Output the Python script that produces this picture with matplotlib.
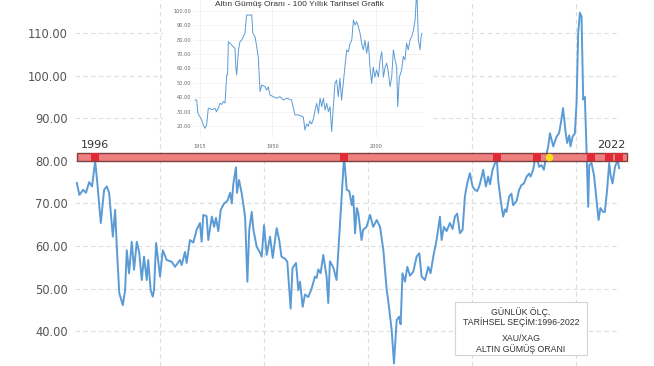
import matplotlib.pyplot as plt
import matplotlib.ticker as mticker
from matplotlib.patches import Rectangle

# --- main series: XAU/XAG ratio 1996-2022 ---
years = [1996.00, 1996.12, 1996.30, 1996.44, 1996.59, 1996.73, 1996.88, 1996.97,
         1997.15, 1997.31, 1997.44, 1997.55, 1997.73, 1997.84, 1997.92, 1998.04,
         1998.21, 1998.32, 1998.40, 1998.51, 1998.64, 1998.75, 1998.88, 1999.00,
         1999.12, 1999.23, 1999.36, 1999.43, 1999.55, 1999.65, 1999.71, 1999.81,
         2000.00, 2000.13, 2000.32, 2000.56, 2000.72, 2000.96, 2001.04, 2001.20,
         2001.28, 2001.44, 2001.60, 2001.76, 2001.92, 2002.00, 2002.08, 2002.24,
         2002.32, 2002.49, 2002.60, 2002.69, 2002.80, 2002.92, 2003.08, 2003.24,
         2003.37, 2003.45, 2003.52, 2003.65, 2003.70, 2003.80, 2003.93, 2004.09,
         2004.20, 2004.29, 2004.41, 2004.49, 2004.65, 2004.81, 2004.89, 2005.00,
         2005.13, 2005.29, 2005.42, 2005.53, 2005.61, 2005.73, 2005.84, 2006.01,
         2006.12, 2006.28, 2006.37, 2006.54, 2006.65, 2006.73, 2006.86, 2006.97,
         2007.13, 2007.29, 2007.45, 2007.53, 2007.61, 2007.72, 2007.85, 2008.01,
         2008.09, 2008.17, 2008.33, 2008.49, 2008.73, 2008.85, 2008.98, 2009.10,
         2009.22, 2009.29, 2009.38, 2009.46, 2009.53, 2009.69, 2009.77, 2009.93,
         2010.10, 2010.25, 2010.42, 2010.58, 2010.74, 2010.90, 2010.97, 2011.14,
         2011.25, 2011.38, 2011.50, 2011.57, 2011.66, 2011.78, 2011.89, 2012.02,
         2012.18, 2012.34, 2012.47, 2012.58, 2012.74, 2012.90, 2013.01, 2013.14,
         2013.30, 2013.46, 2013.54, 2013.65, 2013.78, 2013.94, 2014.07, 2014.18,
         2014.29, 2014.42, 2014.55, 2014.66, 2014.77, 2014.90, 2015.03, 2015.14,
         2015.25, 2015.35, 2015.47, 2015.54, 2015.67, 2015.78, 2015.87, 2015.99,
         2016.11, 2016.19, 2016.26, 2016.38, 2016.50, 2016.59, 2016.66, 2016.79,
         2016.90, 2016.98, 2017.14, 2017.27, 2017.38, 2017.50, 2017.63, 2017.75,
         2017.82, 2017.94, 2018.03, 2018.11, 2018.23, 2018.35, 2018.46, 2018.56,
         2018.67, 2018.75, 2018.83, 2018.91, 2019.07, 2019.19, 2019.30, 2019.38,
         2019.51, 2019.58, 2019.68, 2019.74, 2019.84, 2019.95, 2020.03, 2020.11,
         2020.19, 2020.27, 2020.35, 2020.43, 2020.51, 2020.59, 2020.64, 2020.75,
         2020.87, 2020.99, 2021.09, 2021.18, 2021.31, 2021.39, 2021.50, 2021.60,
         2021.67, 2021.76, 2021.88, 2022.00, 2022.08]
ratio = [74.8, 72.0, 73.2, 72.5, 75.0, 74.0, 80.0, 75.5,
         65.4, 73.2, 74.0, 72.5, 62.2, 68.5, 59.8, 48.9,
         46.1, 49.6, 59.0, 53.6, 61.0, 54.4, 61.0, 58.4,
         52.0, 57.5, 52.0, 56.7, 49.6, 48.1, 49.6, 60.7,
         52.8, 59.0, 56.7, 56.3, 55.1, 56.7, 55.5, 58.6,
         56.0, 61.4, 60.8, 63.8, 65.4, 61.0, 67.3, 67.0,
         61.4, 66.9, 64.5, 66.6, 63.5, 68.5, 70.0, 70.6,
         72.5, 70.0, 74.4, 78.5, 72.5, 75.5, 72.3, 66.9,
         51.6, 63.8, 68.0, 63.8, 59.8, 58.4, 57.5, 64.9,
         57.9, 62.2, 57.2, 61.4, 64.2, 61.4, 57.5, 57.0,
         56.3, 45.3, 54.8, 56.0, 49.6, 51.6, 45.7, 48.6,
         48.0, 50.0, 52.8, 52.5, 54.5, 53.6, 57.9, 52.8,
         46.6, 56.4, 55.0, 52.0, 71.6, 81.0, 73.2, 72.9,
         69.6, 71.8, 63.0, 68.9, 67.8, 61.4, 63.8, 64.5,
         67.3, 64.5, 66.1, 64.5, 59.0, 49.6, 47.3, 40.2,
         32.4, 42.6, 43.4, 41.6, 53.6, 51.6, 55.1, 53.0,
         54.0, 57.5, 58.3, 52.8, 52.0, 55.1, 53.6, 57.5,
         61.4, 66.9, 61.4, 64.5, 63.5, 65.4, 64.0, 66.9,
         67.6, 63.0, 63.8, 71.6, 74.7, 77.1, 74.0, 73.2,
         72.9, 74.0, 76.3, 77.9, 74.0, 76.3, 74.5, 77.9,
         79.5, 81.0, 75.5, 70.8, 66.9, 68.6, 68.0, 71.6,
         72.3, 69.6, 70.5, 73.2, 74.3, 74.7, 76.3, 77.0,
         76.3, 77.9, 80.2, 81.0, 78.6, 79.0, 77.9, 81.0,
         83.4, 86.5, 85.0, 83.4, 85.7, 86.5, 89.6, 92.4,
         86.5, 84.2, 86.0, 83.4, 85.7, 86.5, 93.6, 110.0,
         114.8, 113.9, 94.4, 95.0, 82.6, 69.2, 79.0, 79.5,
         76.6, 70.8, 66.1, 68.9, 68.0, 68.0, 73.2, 79.5,
         76.6, 74.7, 78.6, 80.2, 78.3]

# points where the ratio touched the 80 band
touch_years = [1996.88, 2008.85, 2016.20, 2018.12, 2020.72, 2021.59, 2022.07]
today_year = 2018.70
band_low, band_high = 80.0, 81.9
band_mid = 81.0
main_yticks = [40, 50, 60, 70, 80, 90, 100, 110]

# --- inset: 100 year history ---
hist_years = [1912.6, 1913.4, 1914.0, 1915.8, 1916.6, 1917.4, 1918.2, 1919.0,
              1919.8, 1920.6, 1922.2, 1923.0, 1923.8, 1924.7, 1925.5, 1926.3,
              1927.1, 1927.9, 1928.3, 1928.7, 1929.5, 1930.3, 1931.1, 1931.9,
              1932.3, 1932.7, 1933.6, 1934.3, 1935.1, 1935.9, 1936.7, 1937.5,
              1939.1, 1940.0, 1940.5, 1941.6, 1942.4, 1943.2, 1944.0, 1944.8,
              1946.4, 1947.2, 1948.0, 1948.8, 1950.4, 1952.0, 1953.6, 1955.2,
              1956.8, 1959.2, 1960.9, 1962.5, 1964.9, 1965.7, 1966.5, 1967.3,
              1968.1, 1968.9, 1969.7, 1970.6, 1971.4, 1972.2, 1973.0, 1973.8,
              1974.6, 1975.4, 1976.2, 1977.0, 1977.8, 1978.6, 1979.4, 1980.2,
              1981.0, 1981.8, 1982.6, 1983.4, 1985.0, 1985.9, 1986.7, 1987.5,
              1988.3, 1989.1, 1989.9, 1990.7, 1991.5, 1992.3, 1993.1, 1993.9,
              1994.7, 1995.5, 1996.3, 1997.1, 1997.9, 1998.7, 1999.5, 2000.3,
              2001.2, 2002.0, 2002.8, 2003.6, 2004.4, 2005.2, 2006.0, 2006.8,
              2007.6, 2008.4, 2009.2, 2010.0, 2010.5, 2011.3, 2012.4, 2013.2,
              2014.0, 2014.8, 2015.6, 2016.4, 2017.2, 2018.1, 2018.9, 2019.7,
              2020.5, 2021.3, 2021.8, 2022.2]
hist_ratio = [38.1, 38.0, 28.8, 24.2, 20.7, 18.4, 20.7, 32.3,
              32.3, 31.2, 32.3, 30.0, 32.3, 35.8, 35.0, 37.0,
              36.0, 55.5, 55.5, 78.6, 77.5, 76.3, 75.0, 74.0,
              61.0, 55.5, 73.0, 78.6, 79.7, 82.1, 84.5, 97.2,
              97.2, 97.2, 84.5, 82.0, 75.2, 67.2, 43.9, 48.5,
              47.4, 45.0, 47.3, 41.6, 40.4, 39.3, 40.4, 38.1,
              39.3, 38.1, 27.7, 27.7, 26.3, 17.2, 21.4, 19.8,
              23.5, 21.4, 24.5, 31.1, 35.8, 28.8, 39.3, 33.4,
              39.3, 31.1, 35.8, 30.0, 33.4, 16.1, 33.4, 49.7,
              52.0, 40.4, 53.2, 38.0, 61.3, 72.9, 71.7, 77.5,
              79.7, 93.7, 90.3, 92.6, 89.0, 84.6, 77.5, 73.0,
              79.7, 70.6, 78.6, 61.3, 49.7, 61.0, 54.0, 59.0,
              54.0, 66.0, 71.7, 54.0, 61.0, 63.8, 57.0, 47.4,
              54.0, 73.0, 66.0, 61.0, 33.4, 54.0, 59.0, 68.4,
              66.0, 77.5, 73.0, 79.7, 82.0, 86.5, 93.7, 115.0,
              79.7, 73.0, 82.0, 84.5]
inset_yticks = [20, 30, 40, 50, 60, 70, 80, 90, 100]
inset_xticks = [1915, 1950, 2000]

inset_title = "Altın Gümüş Oranı - 100 Yıllık Tarihsel Grafik"
box_lines_top = "GÜNLÜK ÖLÇ.\nTARİHSEL SEÇİM:1996-2022"
box_lines_bottom = "XAU/XAG\nALTIN GÜMÜŞ ORANI"

W, H = 654, 366
fig = plt.figure(figsize=(W / 100, H / 100), dpi=100)
fig.patch.set_facecolor('white')


def px_box(x0, y0, x1, y1):
    # pixel rectangle (top-left origin) -> figure fraction [l, b, w, h]
    return [x0 / W, 1 - y1 / H, (x1 - x0) / W, (y1 - y0) / H]


line_col = '#5b9bd5'
grid_col = '#dcdcdc'

# main axes
ax = fig.add_axes(px_box(75, 0, 620, H))
ax.plot(years, ratio, color=line_col, lw=1.4, zorder=3, clip_on=False)
ax.set_xlim(1995.91, 2022.12)
ax.set_ylim(31.8, 117.8)
ax.set_yticks(main_yticks)
ax.yaxis.set_major_formatter(mticker.FormatStrFormatter('%.2f'))
ax.set_xticks([2000, 2005, 2010, 2015, 2020])
ax.tick_params(axis='x', length=0, labelbottom=False)
ax.tick_params(axis='y', length=0, pad=5, labelsize=8.3, labelcolor='#555555')
ax.grid(True, color=grid_col, ls=(0, (4, 3)), lw=0.8)
ax.set_axisbelow(True)
for s in ax.spines.values():
    s.set_visible(False)

# 80 band with touch markers
ax.axhspan(band_low, band_high, xmin=0.004, xmax=1.013, facecolor='#ee7878',
           edgecolor='#7a3b3b', lw=1.0, alpha=0.95, zorder=4, clip_on=False)
ax.scatter(touch_years, [band_mid] * len(touch_years), marker='s', s=40,
           color='#e02a36', zorder=5, lw=0, clip_on=False)
ax.scatter([today_year], [band_mid], marker='o', s=30, color='#f5e11a', zorder=6,
           lw=0, clip_on=False)
ax.text(touch_years[0], band_high + 0.6, '1996', ha='center', va='bottom',
        fontsize=8, color='#333333', zorder=6)
ax.text(touch_years[-1] - 0.35, band_high + 0.6, '2022', ha='center', va='bottom',
        fontsize=8, color='#333333', zorder=6, clip_on=False)

# info box
fig.patches.append(Rectangle((455 / W, 1 - 355 / H), 132 / W, 53 / H,
                             transform=fig.transFigure, fc='white', ec='#d4d4d4',
                             lw=0.8, zorder=10))
fig.text(521 / W, 1 - 317 / H, box_lines_top, ha='center', va='center', fontsize=6.3,
         family='Liberation Sans', color='#333333', linespacing=1.1, zorder=11)
fig.text(521 / W, 1 - 344 / H, box_lines_bottom, ha='center', va='center', fontsize=6.3,
         family='Liberation Sans', color='#333333', linespacing=1.1, zorder=11)

# inset white background covering main grid
bg = fig.add_axes(px_box(163, 0, 433, 150))
bg.set_facecolor('white')
bg.set_xticks([])
bg.set_yticks([])
for s in bg.spines.values():
    s.set_visible(False)

ins = fig.add_axes(px_box(194, 0, 424, 138))
ins.set_facecolor('white')
ins.plot(hist_years, hist_ratio, color=line_col, lw=0.7)
ins.set_xlim(1912.1, 2023.2)
ins.set_ylim(11.65, 107.65)
ins.set_yticks(inset_yticks)
ins.set_xticks(inset_xticks)
ins.yaxis.set_major_formatter(mticker.FormatStrFormatter('%.2f'))
ins.tick_params(length=0, labelsize=3.6, labelcolor='#666666', pad=2)
ins.tick_params(axis='x', pad=4)
ins.grid(True, color='#f0f0f0', lw=0.5)
ins.set_axisbelow(True)
for s in ins.spines.values():
    s.set_visible(False)

fig.text(299 / W, 1 - 0.5 / H, inset_title, ha='center', va='top', fontsize=6,
         family='Liberation Sans', color='#333333')

fig.savefig('out.png', dpi=100, facecolor='white')
